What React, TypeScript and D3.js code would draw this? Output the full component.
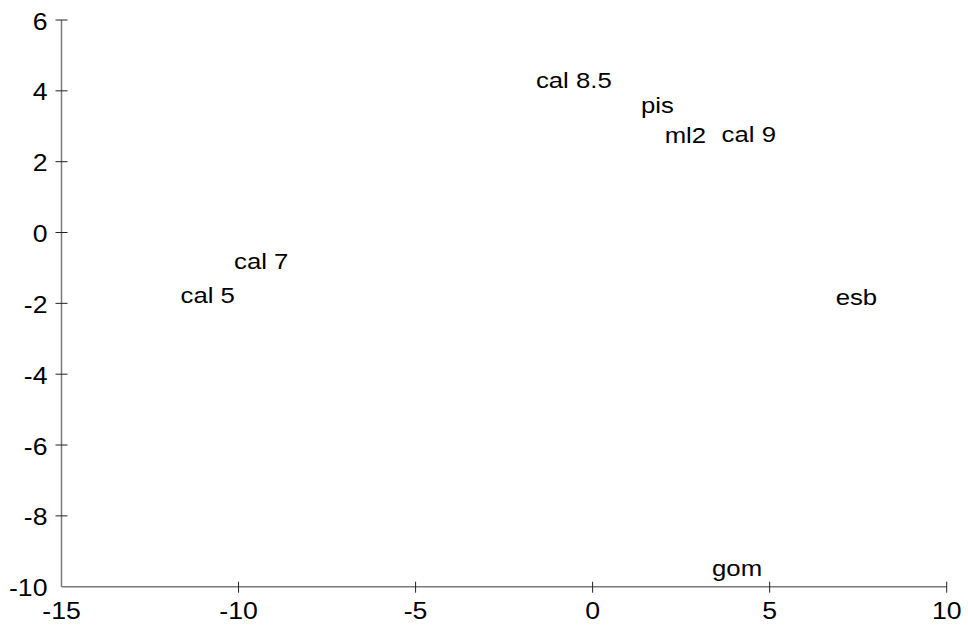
import React from "react";
import * as d3 from "d3";

// Ordination scores for each sample label
const labels = ["cal 8.5", "pis", "ml2", "cal 9", "cal 7", "cal 5", "esb", "gom"];
const xScores = [-0.53, 1.83, 2.62, 4.41, -9.36, -10.87, 7.45, 4.08];
const yScores = [4.31, 3.59, 2.76, 2.78, -0.81, -1.77, -1.82, -9.46];

const xTicks = [-15, -10, -5, 0, 5, 10];
const yTicks = [-10, -8, -6, -4, -2, 0, 2, 4, 6];

const W = 968;
const H = 631;
const FONT = "'Liberation Sans', Arial, Helvetica, sans-serif";

export default function App() {
  const x = d3.scaleLinear().domain([-15, 10]).range([61.5, 946.7]);
  const y = d3.scaleLinear().domain([-10, 6]).range([586.7, 20]);
  const x0 = x(-15);
  const y0 = y(-10);
  const stretch = "scale(1.11,1)";

  return (
    <div style={{ position: "fixed", left: 0, top: 0 }}>
      <svg width={W} height={H} style={{ display: "block", background: "#fff" }}>
        {/* axis lines */}
        <line x1={x0} x2={x0} y1={y(6)} y2={y0} stroke="#7a7a7a" strokeWidth={1.5} />
        <line x1={x0} x2={x(10)} y1={y0} y2={y0} stroke="#7a7a7a" strokeWidth={1.5} />

        {/* y ticks */}
        {yTicks.map((t) => (
          <g key={"y" + t}>
            {t !== -10 && (
              <line x1={x0 - 6} x2={x0 + 6} y1={y(t)} y2={y(t)} stroke="#222" strokeWidth={1} />
            )}
            <text
              transform={`translate(${x0 - 14},${y(t) + 9.5}) ${stretch}`}
              textAnchor="end"
              fontFamily={FONT}
              fontSize={24}
              fill="#000"
            >
              {t}
            </text>
          </g>
        ))}

        {/* x ticks */}
        {xTicks.map((t) => (
          <g key={"x" + t}>
            {t !== -15 && (
              <line x1={x(t)} x2={x(t)} y1={y0 - 5} y2={y0 + 6} stroke="#222" strokeWidth={1} />
            )}
            <text
              transform={`translate(${x(t)},${y0 + 32.5}) ${stretch}`}
              textAnchor="middle"
              fontFamily={FONT}
              fontSize={24}
              fill="#000"
            >
              {t}
            </text>
          </g>
        ))}

        {/* sample labels */}
        {labels.map((lab, i) => (
          <text
            key={lab}
            transform={`translate(${x(xScores[i])},${y(yScores[i])}) scale(1.12,1)`}
            textAnchor="middle"
            dy="0.35em"
            fontFamily={FONT}
            fontSize={23}
            fill="#000"
          >
            {lab}
          </text>
        ))}
      </svg>
    </div>
  );
}
